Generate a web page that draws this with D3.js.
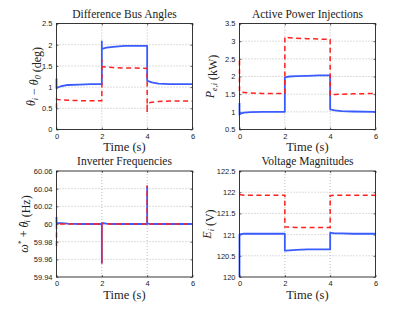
<!DOCTYPE html>
<html><head><meta charset="utf-8">
<script src="https://cdn.jsdelivr.net/npm/d3@7"></script>
<style>body{margin:0;background:#fff}svg{display:block}</style>
</head><body><svg id="c" width="415" height="312"></svg>
<script>
// shared time grid (duplicated times mark step changes)
const time = [0,0,0.05,0.2,0.5,1,1.5,2,2,2,2.05,2.2,2.5,3,3.5,4,4,4,4.05,4.2,4.5,5,6];

const angleBlue = [1.2,0.97,0.99,1.02,1.05,1.06,1.07,1.07,2.08,1.9,1.91,1.93,1.95,1.97,1.97,1.97,1.97,1.15,1.14,1.11,1.08,1.07,1.07];
const angleRed  = [0.5,0.72,0.71,0.7,0.69,0.68,0.68,0.68,1.65,1.48,1.48,1.47,1.46,1.45,1.45,1.44,0.4,0.62,0.63,0.64,0.66,0.67,0.67];

const powerBlue = [1.25,0.92,0.95,0.98,0.99,1.0,1.0,1.0,1.0,1.97,1.98,2.0,2.01,2.02,2.03,2.03,2.03,1.07,1.06,1.04,1.02,1.01,1.0];
const powerRed  = [2.45,1.57,1.56,1.55,1.53,1.52,1.52,1.52,1.52,3.12,3.11,3.1,3.08,3.07,3.06,3.05,3.05,1.47,1.48,1.49,1.5,1.51,1.52];

const freqBlue = [60.008,60.001,60.001,60.001,60.0005,60,60,60,59.956,60.001,60.001,60.0005,60,60,60,60,60.042,60.001,60.0005,60,60,60,60];
const freqRed  = [59.975,60,60,60,60,60,60,60,59.955,60.0005,60.0005,60,60,60,60,60,60.044,60.0005,60,60,60,60,60];

const voltBlue = [120,121.0,121.01,121.02,121.02,121.02,121.02,121.02,121.02,120.62,120.62,120.63,120.64,120.65,120.65,120.65,120.65,121.04,121.04,121.03,121.03,121.02,121.02];
const voltRed  = [121.95,121.95,121.94,121.93,121.93,121.93,121.93,121.93,121.93,121.18,121.18,121.18,121.17,121.17,121.17,121.17,121.17,121.92,121.92,121.93,121.93,121.93,121.93];

const xTicks = [0,2,4,6];
const angleTicks = [0,0.5,1,1.5,2,2.5];
const powerTicks = [0.5,1,1.5,2,2.5,3,3.5];
const freqTicks = [59.94,59.96,59.98,60,60.02,60.04,60.06];
const voltTicks = [120,120.5,121,121.5,122,122.5];

const panels = [
  {title:"Difference Bus Angles", x:56.5, y:23.5, ticks:angleTicks, blue:angleBlue, red:angleRed, ylab:"angle", lx:-22},
  {title:"Active Power Injections", x:239.5, y:23.5, ticks:powerTicks, blue:powerBlue, red:powerRed, ylab:"power", lx:-26},
  {title:"Inverter Frequencies", x:56.5, y:171, ticks:freqTicks, blue:freqBlue, red:freqRed, ylab:"freq", lx:-29},
  {title:"Voltage Magnitudes", x:239.5, y:171, ticks:voltTicks, blue:voltBlue, red:voltRed, ylab:"volt", lx:-29}
];
const W = 136, H = 106;
const svg = d3.select("#c");
const serif = "'Liberation Serif','DejaVu Serif',serif";
const sans = "'Liberation Sans',Arial,sans-serif";
const fmt = d => String(+d.toFixed(2));

panels.forEach(p => {
  const g = svg.append("g").attr("transform",`translate(${p.x},${p.y})`);
  const xs = d3.scaleLinear().domain([0,6]).range([0,W]);
  const ys = d3.scaleLinear().domain([p.ticks[0],p.ticks[p.ticks.length-1]]).range([H,0]);
  // grid
  g.selectAll(".gx").data(xTicks.slice(1,-1)).join("line")
    .attr("x1",d=>xs(d)).attr("x2",d=>xs(d)).attr("y1",0).attr("y2",H)
    .attr("stroke","#aaa").attr("stroke-width",0.8).attr("stroke-dasharray","1,2");
  g.selectAll(".gy").data(p.ticks.slice(1,-1)).join("line")
    .attr("y1",d=>ys(d)).attr("y2",d=>ys(d)).attr("x1",0).attr("x2",W)
    .attr("stroke","#aaa").attr("stroke-width",0.8).attr("stroke-dasharray","1,2");
  // axes
  const ax = g.append("g").attr("transform",`translate(0,${H})`)
    .call(d3.axisBottom(xs).tickValues(xTicks).tickFormat(fmt).tickSize(-2).tickPadding(4).tickSizeOuter(0));
  const ay = g.append("g")
    .call(d3.axisLeft(ys).tickValues(p.ticks).tickFormat(fmt).tickSize(-2).tickPadding(4).tickSizeOuter(0));
  const axT = g.append("g").call(d3.axisTop(xs).tickValues(xTicks).tickSize(-2).tickFormat("").tickSizeOuter(0));
  const ayR = g.append("g").attr("transform",`translate(${W},0)`).call(d3.axisRight(ys).tickValues(p.ticks).tickSize(-2).tickFormat("").tickSizeOuter(0));
  [ax,ay,axT,ayR].forEach(a=>{
    a.select(".domain").remove();
    a.selectAll("line").attr("stroke","#222").attr("stroke-width",0.7);
    a.selectAll("text").attr("font-family",sans).attr("font-size",7.5).attr("fill","#222");
  });
  // lines
  const line = d3.line().x((d,i)=>xs(time[i])).y(d=>ys(d));
  g.append("path").datum(p.blue).attr("d",line).attr("fill","none")
    .attr("stroke","#3a5cff").attr("stroke-width",1.8).attr("stroke-linejoin","round");
  g.append("path").datum(p.red).attr("d",line).attr("fill","none")
    .attr("stroke","#ff2020").attr("stroke-width",1.5).attr("stroke-dasharray","5,3.5");
  // frame
  g.append("rect").attr("width",W).attr("height",H).attr("fill","none").attr("stroke","#222").attr("stroke-width",0.9);
  // title
  g.append("text").attr("x",W/2).attr("y",-6).attr("text-anchor","middle")
    .attr("font-family",serif).attr("font-size",11.5).attr("fill","#222").text(p.title);
  // x label
  g.append("text").attr("x",W/2).attr("y",H+21.5).attr("text-anchor","middle")
    .attr("font-family",serif).attr("font-size",12.5).attr("fill","#222").text("Time (s)");
  // y label
  const yl = g.append("text").attr("transform",`translate(${p.lx},${H/2}) rotate(-90)`)
    .attr("text-anchor","middle").attr("font-family",serif).attr("font-size",12).attr("fill","#222");
  const it = (s)=>yl.append("tspan").attr("font-style","italic").text(s);
  const sub = (s)=>{yl.append("tspan").attr("font-size",8).attr("dy",3).attr("font-style","italic").text(s);
                    yl.append("tspan").attr("dy",-3).text("");};
  if(p.ylab==="angle"){ it("θ"); sub("i"); yl.append("tspan").text(" − "); it("θ"); sub("0"); yl.append("tspan").text(" (deg)"); }
  if(p.ylab==="power"){ it("P"); sub("e,i"); yl.append("tspan").text(" (kW)"); }
  if(p.ylab==="freq"){ it("ω"); yl.append("tspan").attr("font-size",8).attr("dy",-4).text("*"); yl.append("tspan").attr("dy",4).text(" + ");
    it("θ"); yl.append("tspan").attr("dx",-5).attr("dy",-1).text("˙"); yl.append("tspan").attr("dy",1).attr("dx",-1).text("");
    sub("i"); yl.append("tspan").text(" (Hz)"); }
  if(p.ylab==="volt"){ it("E"); sub("i"); yl.append("tspan").text(" (V)"); }
});
</script></body></html>
